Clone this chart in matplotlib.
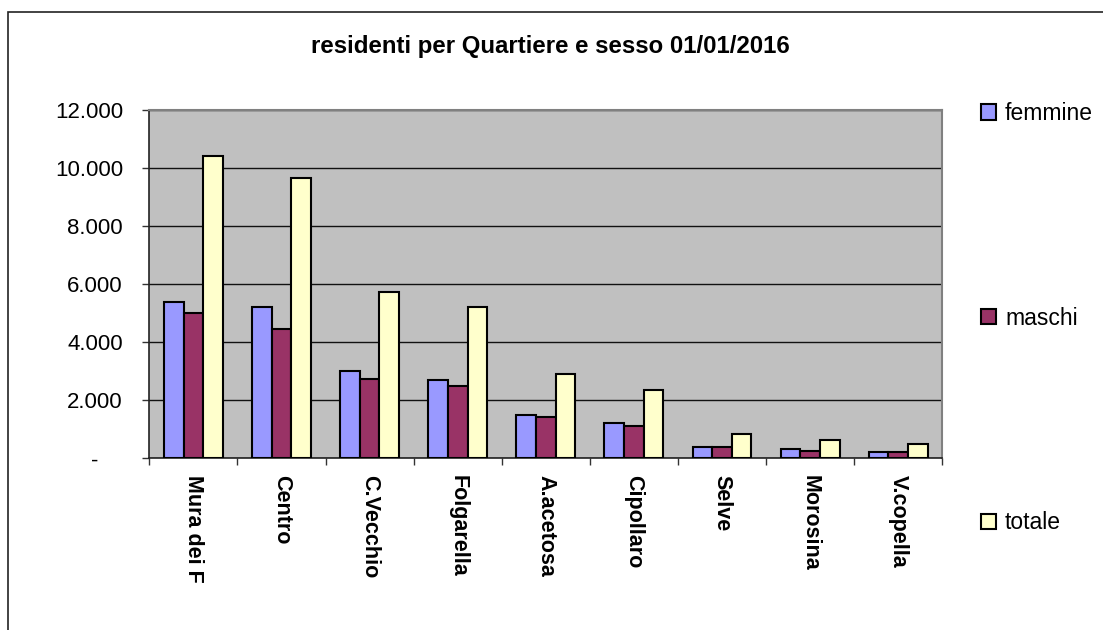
import matplotlib
matplotlib.use("Agg")
import matplotlib.pyplot as plt
import matplotlib.patches as mpatches
import matplotlib.transforms as mtransforms
import numpy as np

plt.rcParams['font.family'] = ['Liberation Sans', 'DejaVu Sans']

# Data
quartieri = ["Mura dei F", "Centro", "C.Vecchio", "Folgarella", "A.acetosa",
             "Cipollaro", "Selve", "Morosina", "V.copella"]
femmine = [5380, 5220, 3010, 2700, 1490, 1210, 400, 330, 210]
maschi = [5020, 4450, 2720, 2500, 1420, 1120, 400, 260, 210]
totale = [10400, 9650, 5730, 5210, 2920, 2340, 850, 630, 490]
series_names = ["femmine", "maschi", "totale"]
series_colors = ["#9999FF", "#993366", "#FFFFCC"]
y_ticks = [0, 2000, 4000, 6000, 8000, 10000, 12000]
y_labels = ["-", "2.000", "4.000", "6.000", "8.000", "10.000", "12.000"]

W, H = 1103, 630
fig = plt.figure(figsize=(W / 100, H / 100), dpi=100)
ax = fig.add_axes([149.3 / W, 1 - 458.3 / H, (942.3 - 149.3) / W, (458.3 - 110) / H])
ax.set_facecolor("#C0C0C0")

# outer chart border (extends past the right and bottom edge)
fig.patches.append(mpatches.Rectangle((8 / W, -0.1), 1.2, 1 - 12 / H + 0.1,
                                      transform=fig.transFigure, fill=False,
                                      edgecolor="#222222", lw=1.2, zorder=0))

x = np.arange(len(quartieri))
w = 0.223
for i, (vals, name, col) in enumerate(zip([femmine, maschi, totale], series_names, series_colors)):
    ax.bar(x + (i - 1) * w, vals, width=w, color=col, edgecolor="black",
           linewidth=1.5, label=name, zorder=3)

ax.set_xlim(-0.5, len(quartieri) - 0.5)
ax.set_ylim(0, 12000)

# gridlines
ax.set_yticks(y_ticks)
ax.set_yticklabels(y_labels, fontsize=16)
ax.yaxis.grid(True, color="#111111", lw=1, zorder=1)
ax.set_axisbelow(True)
ax.tick_params(axis="y", direction="out", length=5, width=1, pad=14, color="#333333")

# "-" label sits further left (accounting format)
lbl0 = ax.get_yticklabels()[0]
lbl0.set_transform(lbl0.get_transform() + mtransforms.ScaledTranslation(-25 / 100, 0, fig.dpi_scale_trans))

ax.set_xticks(x)
ax.set_xticklabels(quartieri, rotation=270, fontsize=15.5, fontweight="bold", va="top", ha="center")
ax.tick_params(axis="x", which="major", length=0, pad=12)
ax.set_xticks(np.arange(len(quartieri) + 1) - 0.5, minor=True)
ax.tick_params(axis="x", which="minor", direction="out", length=5, width=1, color="#333333")

for s in ["top", "right"]:
    ax.spines[s].set_color("#808080")
    ax.spines[s].set_linewidth(1.5)
for s in ["left", "bottom"]:
    ax.spines[s].set_color("#222222")
    ax.spines[s].set_linewidth(1.2)

fig.text(550 / W, 1 - 47 / H, "residenti per Quartiere e sesso 01/01/2016",
         ha="center", va="center", fontsize=17.3, fontweight="bold")

fig.legend(loc="upper left", bbox_to_anchor=(981 / W, 1 - 102 / H), frameon=False,
           fontsize=16.5, handlelength=0.65, handleheight=0.65, handletextpad=0.4,
           labelspacing=7.93, borderpad=0, borderaxespad=0)

fig.savefig("out.png", dpi=100)
